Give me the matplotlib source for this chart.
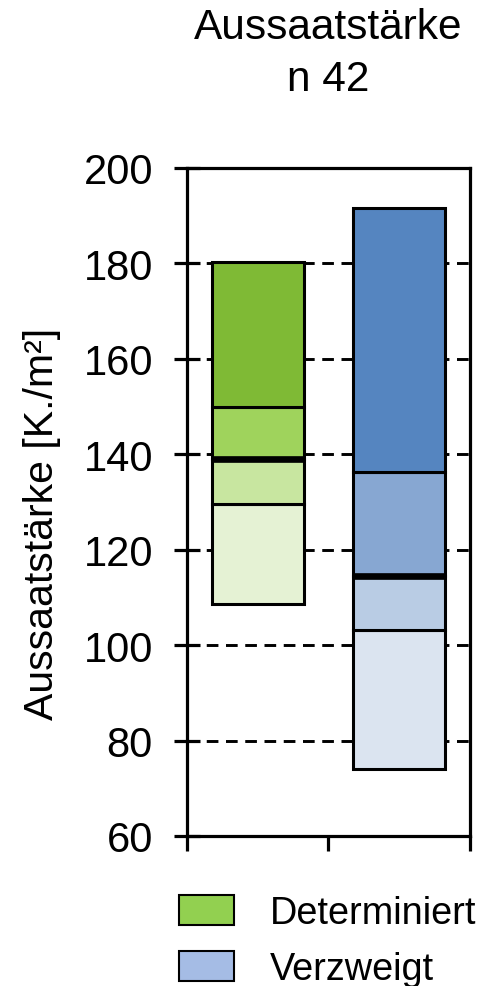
import matplotlib.pyplot as plt
from matplotlib.patches import Patch

plt.rcParams['font.family'] = ['Liberation Sans', 'DejaVu Sans']

# Stacked quantile bands per type (bottom edge, then band boundaries up to the top)
groups = ["Determiniert", "Verzweigt"]
det_edges = [108.6, 129.6, 139.0, 149.9, 180.3]
ver_edges = [74.0, 103.1, 114.5, 136.2, 191.5]
det_median = 139.0
ver_median = 114.5

det_colors = ["#E5F2D4", "#C8E6A0", "#9FD35C", "#7FBA35"]
ver_colors = ["#DBE4F0", "#B9CCE4", "#87A7D2", "#5585C0"]
legend_colors = ["#92D050", "#A5BCE5"]

yticks = [60, 80, 100, 120, 140, 160, 180, 200]

fig = plt.figure(figsize=(4.82, 9.87), dpi=100)
ax = fig.add_axes([0.388, 0.152, 0.587, 0.677])

width = 0.65
for xpos, edges, cols, med in [(0, det_edges, det_colors, det_median),
                               (1, ver_edges, ver_colors, ver_median)]:
    for lo, hi, c in zip(edges[:-1], edges[1:], cols):
        ax.bar(xpos, hi - lo, bottom=lo, width=width, color=c,
               edgecolor="black", linewidth=2.2, zorder=3)
    ax.plot([xpos - width / 2, xpos + width / 2], [med, med],
            color="black", linewidth=4.8, solid_capstyle="butt", zorder=4)

ax.set_xlim(-0.5, 1.5)
ax.set_ylim(60, 200)
ax.set_yticks(yticks)
ax.set_yticklabels([str(v) for v in yticks], fontsize=30)
ax.set_xticks([-0.5, 0.5, 1.5])
ax.set_xticklabels([])
for v in yticks[1:-1]:
    ax.axhline(v, color="black", linestyle=(0, (4, 2.6)), linewidth=2.1, zorder=1)

for s in ax.spines.values():
    s.set_linewidth(2.3)
ax.tick_params(axis="y", direction="inout", length=19, width=2.3, pad=15)
ax.tick_params(axis="x", direction="out", length=11, width=2.3)

ax.set_ylabel("Aussaatstärke [K./m²]", fontsize=29.5)
ax.yaxis.set_label_coords(-0.445, 0.469)
ax.set_title("Aussaatstärke\nn 42", fontsize=30.5, pad=56, linespacing=1.38)

handles = [Patch(facecolor=c, edgecolor="black", linewidth=1.5) for c in legend_colors]
fig.legend(handles, groups, loc="upper left", bbox_to_anchor=(179 / 482, 1 - 896 / 987),
           frameon=False, fontsize=27.3, handlelength=1.45, handleheight=0.85,
           handletextpad=0.95, labelspacing=0.52, borderpad=0, borderaxespad=0)

fig.savefig("out.png", dpi=100)
